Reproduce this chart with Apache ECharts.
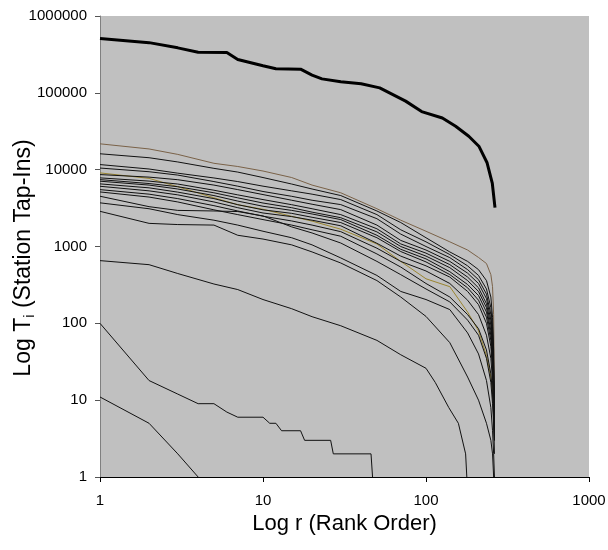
<!DOCTYPE html>
<html>
<head>
<meta charset="utf-8">
<script src="https://cdn.jsdelivr.net/npm/echarts@6/dist/echarts.min.js"></script>
<style>
html,body{margin:0;padding:0;background:#fff;}
#chart{width:608px;height:550px;}
</style>
</head>
<body>
<div id="chart"></div>
<script>
// Tick labels
const xTickValues = [1, 10, 100, 1000];
const yTickValues = [1, 10, 100, 1000, 10000, 100000, 1000000];
const xTitle = 'Log r (Rank Order)';
const yTitleParts = ['Log T', 'i', ' (Station Tap-Ins)'];

// Total (thick line): ranks and tap-ins
const totalRanks = [1, 2, 3, 4, 6, 7, 10, 12, 17, 20, 23, 30, 40, 52, 75, 94, 126, 152, 183, 211, 237, 255, 265];
const totalValues = [510000, 450000, 385000, 338000, 336000, 272000, 225000, 206000, 203000, 170000, 152000, 139000, 131000, 116000, 78000, 57000, 47000, 36700, 27200, 20200, 12300, 6700, 3200];

// Shared rank anchors for the main bundle of stations
const rankAnchors = [1, 2, 3, 5, 7, 10, 15, 20, 30, 50, 70, 100, 140, 180, 210, 235, 250, 256, 260, 263];
const st01 = [21700, 18600, 15800, 12100, 11000, 9600, 7900, 6300, 5000, 3100, 2200, 1580, 1150, 900, 720, 600, 430, 300, 130, 10];
const st02 = [16100, 14300, 12600, 10400, 9300, 7900, 6500, 5600, 4600, 2900, 2050, 1300, 850, 640, 500, 360, 220, 120, 45, 6];
const st03 = [11650, 10200, 9000, 7800, 7000, 6100, 5300, 4800, 4080, 2600, 1650, 1150, 785, 560, 420, 280, 160, 90, 30, 6];
const st04 = [10500, 9400, 8500, 7000, 6100, 5200, 4500, 4000, 3510, 2300, 1450, 1000, 716, 500, 370, 240, 130, 70, 25, 5];
const st05 = [9080, 7700, 6000, 4300, 3500, 3050, 2470, 2140, 1680, 1080, 640, 380, 300, 140, 80, 38, 20, 14, 9, 5];
const st06 = [8630, 8000, 7400, 6300, 5500, 4740, 4000, 3550, 3020, 1900, 1200, 900, 640, 450, 330, 210, 110, 60, 22, 7];
const st07 = [7820, 7100, 6500, 5400, 4700, 4080, 3500, 3100, 2600, 1700, 1080, 820, 581, 400, 290, 180, 95, 50, 18, 5];
const st08 = [7420, 6600, 6000, 5000, 4300, 3680, 3200, 2800, 2370, 1550, 1000, 750, 530, 360, 260, 160, 80, 42, 16, 4];
const st09 = [7080, 6300, 5600, 4600, 3900, 3340, 2950, 2650, 2240, 1400, 920, 690, 470, 320, 230, 140, 70, 36, 14, 6];
const st10 = [6530, 5800, 5100, 4200, 3500, 3000, 2700, 2400, 2050, 1300, 860, 630, 431, 290, 200, 120, 60, 30, 12, 3];
const st11 = [6080, 5300, 4700, 3800, 3200, 2730, 2450, 2200, 1860, 1100, 750, 560, 400, 260, 175, 100, 50, 25, 10, 4];
const st12 = [5500, 4800, 4200, 3400, 2900, 2480, 2150, 1900, 1560, 950, 640, 480, 330, 200, 130, 70, 35, 18, 8, 3];
const st13 = [5130, 4400, 3800, 3000, 2600, 2240, 1900, 1650, 1360, 800, 540, 330, 220, 130, 85, 45, 22, 12, 6, 2];
const st14 = [4510, 3300, 2950, 2900, 2850, 2500, 1800, 1500, 1110, 640, 430, 280, 190, 110, 70, 35, 17, 9, 5, 3];
const st15 = [3700, 3100, 2600, 2200, 1900, 1580, 1300, 1050, 710, 420, 260, 204, 151, 75, 40, 18, 8, 4, 2, 1];
const st16 = [2870, 2000, 1930, 1900, 1400, 1250, 1050, 850, 610, 360, 220, 123, 56, 20, 10, 5, 3, 2, 1, 1];

// Small stations with their own ranks
const st17Ranks = [1, 2, 3, 5, 7, 10, 15, 20, 30, 50, 70, 100, 114, 138, 158, 175, 178];
const st17 = [655, 580, 445, 325, 275, 204, 155, 122, 93, 60, 39, 26, 17, 8, 5, 2, 1];
const st18Ranks = [1, 2, 3, 4, 5, 6, 7, 10, 11, 12, 13, 17, 18, 26, 27, 46, 47];
const st18 = [100, 18, 12, 9, 9, 7, 6, 6, 5, 5, 4, 4, 3, 3, 2, 2, 1];
const st19Ranks = [1, 2, 3, 4];
const st19 = [11, 5, 2, 1];

const bundle = [st01, st02, st03, st04, st05, st06, st07, st08, st09, st10, st11, st12, st13, st14, st15, st16];
const LINE = '#111111';
const bundleColors = ['#7a6248', LINE, LINE, LINE, '#9a8530', LINE, LINE, LINE,
  LINE, LINE, LINE, LINE, LINE, LINE, LINE, LINE];

function pairs(ranks, vals) { return ranks.map((r, i) => [r, vals[i]]); }

const series = [];
bundle.forEach((vals, i) => {
  series.push({type: 'line', data: pairs(rankAnchors, vals), showSymbol: false, silent: true,
    lineStyle: {color: bundleColors[i], width: 1}, z: 2});
});
[[st17Ranks, st17], [st18Ranks, st18], [st19Ranks, st19]].forEach(([r, v]) => {
  series.push({type: 'line', data: pairs(r, v), showSymbol: false, silent: true,
    lineStyle: {color: LINE, width: 1}, z: 2});
});
series.push({type: 'line', data: pairs(totalRanks, totalValues), showSymbol: false, silent: true,
  lineStyle: {color: '#000', width: 3}, z: 5});

const FONT = "'Liberation Sans', Arial, sans-serif";
const chart = echarts.init(document.getElementById('chart'), null, {renderer: 'canvas'});
chart.setOption({
  animation: false,
  backgroundColor: '#fff',
  grid: {left: 100, right: 19, top: 16, bottom: 73, show: true, backgroundColor: '#C0C0C0', borderWidth: 0,
    containLabel: false, outerBoundsMode: 'none'},
  xAxis: {
    type: 'log', logBase: 10, min: xTickValues[0], max: xTickValues[xTickValues.length - 1],
    name: xTitle, nameLocation: 'middle', nameGap: 30,
    nameTextStyle: {fontFamily: FONT, fontSize: 22, color: '#000'},
    axisLine: {show: true, lineStyle: {color: '#000', width: 1}},
    axisTick: {show: true, length: 5, lineStyle: {color: '#000'}},
    axisLabel: {fontFamily: FONT, fontSize: 15, color: '#000', margin: 16,
      formatter: v => String(Math.round(v))},
    splitLine: {show: false}
  },
  yAxis: {
    type: 'log', logBase: 10, min: yTickValues[0], max: yTickValues[yTickValues.length - 1],
    axisLine: {show: true, lineStyle: {color: '#808080', width: 1}},
    axisTick: {show: true, length: 5, lineStyle: {color: '#555'}},
    axisLabel: {fontFamily: FONT, fontSize: 15, color: '#000', margin: 13,
      formatter: v => String(Math.round(v))},
    splitLine: {show: false}
  },
  graphic: [{
    type: 'text', x: 24, y: 258, rotation: Math.PI / 2, silent: true,
    style: {
      text: '{a|' + yTitleParts[0] + '}{s|' + yTitleParts[1] + '}{a|' + yTitleParts[2] + '}',
      align: 'center', verticalAlign: 'middle',
      rich: {
        a: {fontFamily: FONT, fontSize: 23, fill: '#000', lineHeight: 27, verticalAlign: 'middle'},
        s: {fontFamily: FONT, fontSize: 15, fill: '#000', lineHeight: 15, verticalAlign: 'bottom'}
      }
    }
  }],
  series: series
});
</script>
</body>
</html>
